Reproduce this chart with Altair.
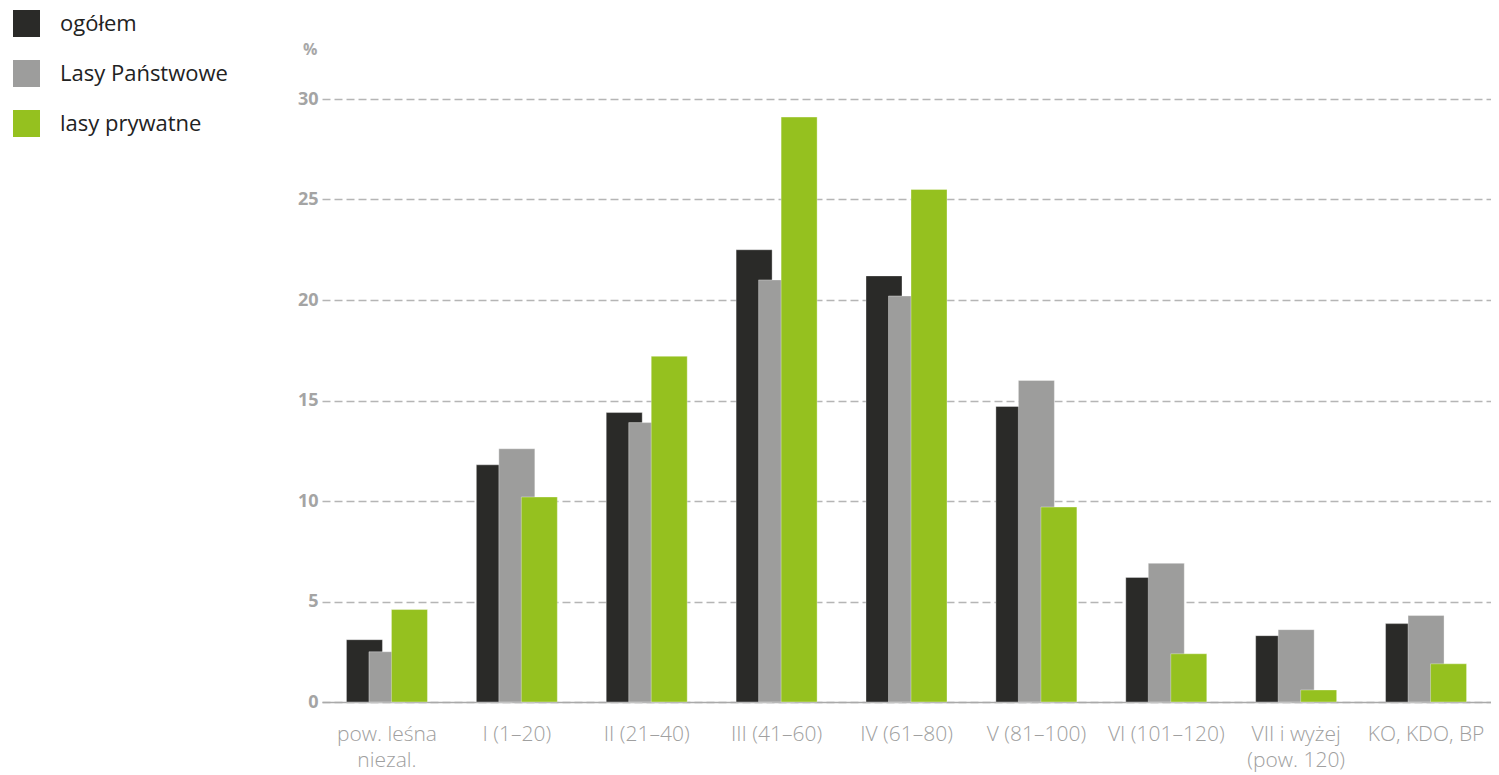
import altair as alt
import pandas as pd

categories = ["pow. leśna|niezal.", "I (1–20)", "II (21–40)", "III (41–60)", "IV (61–80)",
              "V (81–100)", "VI (101–120)", "VII i wyżej|(pow. 120)", "KO, KDO, BP"]
series = ["ogółem", "Lasy Państwowe", "lasy prywatne"]
ogolem = [3.1, 11.8, 14.4, 22.5, 21.2, 14.7, 6.2, 3.3, 3.9]
lasy_panstwowe = [2.5, 12.6, 13.9, 21.0, 20.2, 16.0, 6.9, 3.6, 4.3]
lasy_prywatne = [4.6, 10.2, 17.2, 29.1, 25.5, 9.7, 2.4, 0.6, 1.9]
colors = ["#2a2a28", "#9d9d9c", "#95c11f"]
y_ticks = [0, 5, 10, 15, 20, 25, 30]

rows = []
for i, c in enumerate(categories):
    for s, vals in zip(series, [ogolem, lasy_panstwowe, lasy_prywatne]):
        rows.append({"kategoria": c, "seria": s, "wartosc": vals[i]})
df = pd.DataFrame(rows)

W = 1169
H = 603
step = W / len(categories)
a = step / 2 - 33.75

chart = alt.Chart(df).mark_bar(width=36, stroke="white", strokeOpacity=0.35, strokeWidth=1).encode(
    x=alt.X("kategoria:N", sort=categories,
            scale=alt.Scale(paddingInner=0, paddingOuter=0),
            axis=alt.Axis(title=None, labelAngle=0, labelExpr="split(datum.label, '|')",
                          labelFont="Open Sans", labelFontSize=21, labelFontWeight=300,
                          labelColor="#a0a0a0", labelPadding=21, labelLineHeight=26,
                          ticks=False, domain=True, domainColor="#aaaaaa", domainWidth=1.5,
                          labelBaseline="top")),
    xOffset=alt.XOffset("seria:N", sort=series,
                        scale=alt.Scale(domain=series, range=[a, a + 67.5], paddingInner=0, paddingOuter=0)),
    y=alt.Y("wartosc:Q", scale=alt.Scale(domain=[0, 30], nice=False),
            axis=alt.Axis(title="%", titleAngle=0, titleAlign="right", titleBaseline="middle",
                          titleX=-5, titleY=-50, titleFont="Open Sans", titleFontSize=16,
                          titleFontWeight="bold", titleColor="#a8a8a8",
                          values=y_ticks, labelFont="Open Sans", labelFontSize=18,
                          labelFontWeight="bold", labelColor="#a4a4a4", labelPadding=4,
                          ticks=False, domain=False, grid=True, gridColor="#b5b5b5",
                          gridDash=[8, 4], gridWidth=1.5)),
    color=alt.Color("seria:N", sort=series,
                    scale=alt.Scale(domain=series, range=colors),
                    legend=alt.Legend(title=None, orient="none", legendX=-309, legendY=-89,
                                      symbolType="square", symbolSize=729, symbolStrokeWidth=0,
                                      labelFont="Open Sans", labelFontSize=22, labelColor="#222222",
                                      labelOffset=20, rowPadding=23, labelLimit=400)),
).properties(
    width=W, height=H,
    autosize=alt.AutoSizeParams(type="none"),
    padding={"left": 314, "top": 91, "right": 0, "bottom": 72},
).configure_view(stroke=None)

chart.save("out.html", embed_options={"renderer": "svg", "actions": False})
